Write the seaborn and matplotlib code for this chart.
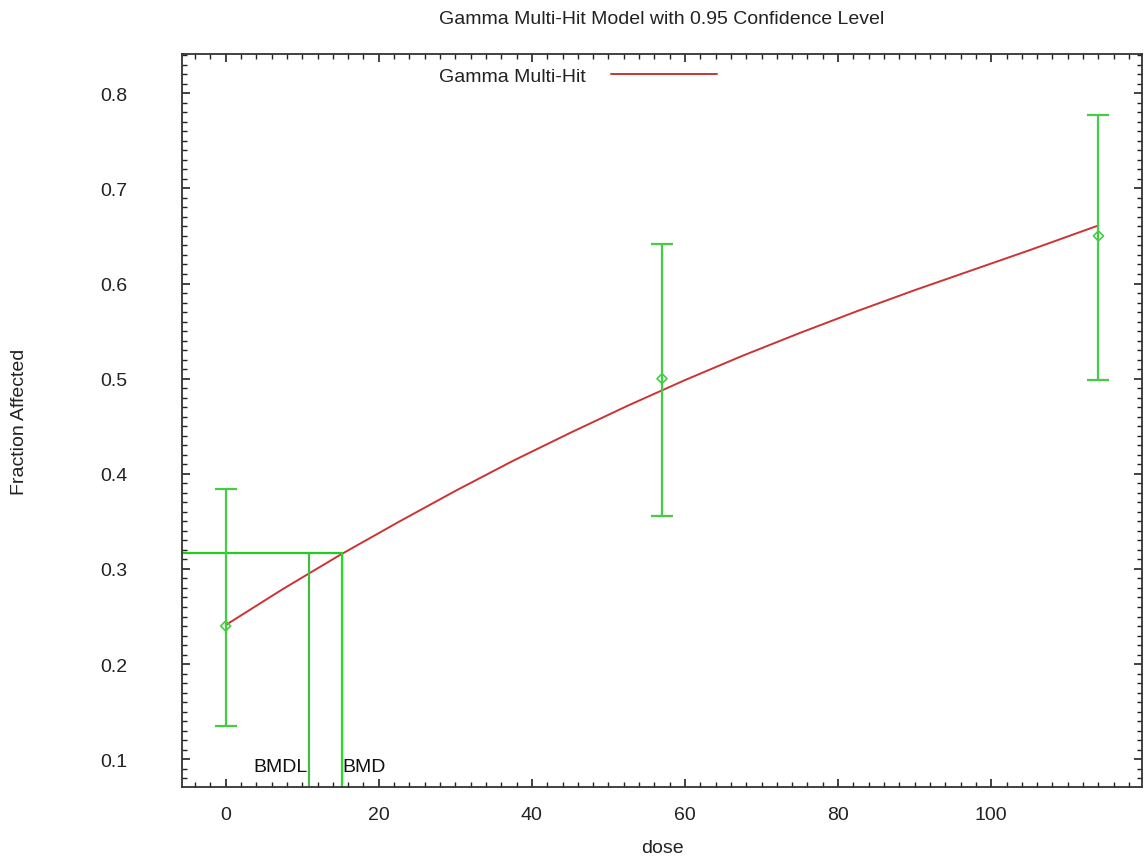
import matplotlib
matplotlib.use("Agg")
import matplotlib.pyplot as plt
from matplotlib.ticker import MultipleLocator
import seaborn as sns
import pandas as pd

# Observed data
dose = [0, 57, 114]
frac = [0.240, 0.500, 0.650]
ci_low = [0.135, 0.356, 0.499]
ci_high = [0.384, 0.642, 0.777]

# Fitted Gamma Multi-Hit curve
curve_dose = [0, 7.5, 15, 22.5, 30, 37.5, 45, 52.5, 60, 67.5, 75, 82.5, 90, 97.5, 105, 114]
curve_resp = [0.241, 0.279, 0.315, 0.349, 0.382, 0.4135, 0.443, 0.4715, 0.4985,
              0.524, 0.548, 0.571, 0.593, 0.614, 0.635, 0.661]

bmr = 0.317
bmd = 15.2
bmdl = 10.9

sns.set_style("ticks")
plt.rcParams['font.family'] = ['Liberation Sans', 'DejaVu Sans']
FS = 14

fig = plt.figure(figsize=(11.44, 8.62), dpi=100)
ax = fig.add_axes([0.1591, 0.0858, 0.9983 - 0.1591, 0.9362 - 0.0858])

xmin, xmax = -5.7, 119.7
ymin, ymax = 0.0708, 0.8412

curve_df = pd.DataFrame({"dose": curve_dose, "resp": curve_resp})
sns.lineplot(data=curve_df, x="dose", y="resp", ax=ax, color="#cc3333",
             linewidth=1.4, label="Gamma Multi-Hit", sort=True)

# error bars
yerr = [[f - l for f, l in zip(frac, ci_low)], [h - f for f, h in zip(frac, ci_high)]]
ax.errorbar(dose, frac, yerr=yerr, fmt="none", ecolor="#44cc44",
            elinewidth=1.6, capsize=8, capthick=1.6, zorder=3)
obs_df = pd.DataFrame({"dose": dose, "frac": frac})
sns.scatterplot(data=obs_df, x="dose", y="frac", ax=ax, marker="D", s=26,
                facecolor="none", edgecolor="#44cc44", linewidth=1.2, zorder=4,
                legend=False)

# BMR / BMD / BMDL lines
ax.plot([xmin, bmd], [bmr, bmr], color="#22cc22", linewidth=1.6, zorder=2)
ax.plot([bmd, bmd], [ymin, bmr], color="#22dd22", linewidth=1.6, zorder=2)
ax.plot([bmdl, bmdl], [ymin, bmr], color="#44bb44", linewidth=1.6, zorder=2)
ax.text(bmdl - 0.2, 0.0835, "BMDL", ha="right", va="bottom", fontsize=FS, color="#111111")
ax.text(bmd + 0.1, 0.0835, "BMD", ha="left", va="bottom", fontsize=FS, color="#111111")

ax.set_xlim(xmin, xmax)
ax.set_ylim(ymin, ymax)
ax.xaxis.set_major_locator(MultipleLocator(20))
ax.xaxis.set_minor_locator(MultipleLocator(2))
ax.yaxis.set_major_locator(MultipleLocator(0.1))
ax.yaxis.set_minor_locator(MultipleLocator(0.01))
ax.tick_params(which="both", direction="in", top=True, right=True, color="#222222",
               labelsize=FS, labelcolor="#222222")
ax.tick_params(which="major", length=6, width=1.2)
ax.tick_params(which="minor", length=3.5, width=1.0)
ax.tick_params(axis="x", which="major", pad=14)
ax.tick_params(axis="y", which="major", pad=39)
for sp in ax.spines.values():
    sp.set_visible(True)
    sp.set_color("#333333")
    sp.set_linewidth(1.3)

ax.set_xlabel("dose", fontsize=FS, color="#222222", labelpad=11)
ax.set_ylabel("Fraction Affected", fontsize=FS, color="#222222")
ax.yaxis.set_label_coords(-0.160, 0.5)
ax.set_title("Gamma Multi-Hit Model with 0.95 Confidence Level", fontsize=FS,
             color="#222222", pad=22)

leg = ax.legend(loc="upper left", bbox_to_anchor=(0.254, 1.0), frameon=False,
                markerfirst=False, handlelength=5.5, handletextpad=1.25,
                fontsize=FS, borderaxespad=0.3)
for t in leg.get_texts():
    t.set_color("#222222")

fig.savefig("out.png", dpi=100)
